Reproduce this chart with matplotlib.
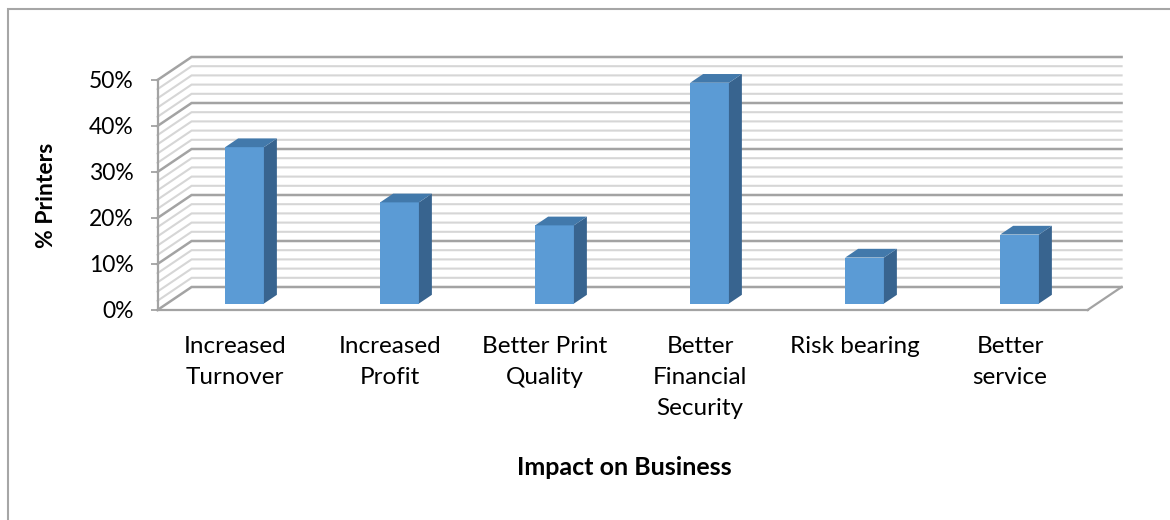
import matplotlib.pyplot as plt
from matplotlib.patches import Polygon, Rectangle
from matplotlib.ticker import PercentFormatter

plt.rcParams['font.family'] = ['Lato', 'DejaVu Sans']

# survey results: share of printers reporting each impact
categories = ["Increased\nTurnover", "Increased\nProfit", "Better Print\nQuality",
              "Better\nFinancial\nSecurity", "Risk bearing", "Better\nservice"]
share = [34, 22, 17, 48, 10, 15]
y_ticks = [0, 10, 20, 30, 40, 50]
minor_step = 2

# oblique depth of the fake 3-D box (data units)
depth_x = 0.22
depth_y = 5.0
bar_w = 0.25
front, back = 0.28, 0.66  # where the columns sit inside the depth

face_col = '#5b9bd5'
top_col = '#4279ab'
side_col = '#38648f'
major_col = '#a3a3a3'
minor_col = '#d6d6d6'

fig = plt.figure(figsize=(11.7, 5.2), dpi=100)
ax = fig.add_axes([157.5 / 1170, 210 / 520, 930 / 1170, 230 / 520])
x = list(range(len(categories)))
ax.set_xlim(-0.5, len(categories) - 0.5)
ax.set_ylim(y_ticks[0], y_ticks[-1])
x0, x1 = ax.get_xlim()

# side wall + back wall grid (every 2%, darker every 10%)
for v in range(y_ticks[0], y_ticks[-1] + 1, minor_step):
    major = v % 10 == 0
    ax.plot([x0, x0 + depth_x, x1 + depth_x], [v, v + depth_y, v + depth_y],
            color=major_col if major else minor_col, lw=1.8 if major else 1.5,
            clip_on=False, zorder=1, solid_joinstyle='miter')

# right edge of the floor
ax.plot([x1, x1 + depth_x], [0, depth_y], color=major_col, lw=1.6,
        clip_on=False, zorder=1)

# columns: front face as a bar, side and top as polygons
fx, fy = front * depth_x, front * depth_y
bx, by = back * depth_x, back * depth_y
ax.bar([i + fx for i in x], share, bottom=fy, width=bar_w, color=face_col,
       zorder=3, clip_on=False)
for i, v in zip(x, share):
    l, r = i - bar_w / 2, i + bar_w / 2
    side = Polygon([(r + fx, fy), (r + bx, by), (r + bx, v + by), (r + fx, v + fy)],
                   closed=True, facecolor=side_col, edgecolor='none', zorder=3,
                   clip_on=False)
    top = Polygon([(l + fx, v + fy), (r + fx, v + fy), (r + bx, v + by), (l + bx, v + by)],
                  closed=True, facecolor=top_col, edgecolor='none', zorder=3,
                  clip_on=False)
    ax.add_patch(side)
    ax.add_patch(top)

ax.patch.set_visible(False)
for s in ['top', 'right']:
    ax.spines[s].set_visible(False)
for s in ['left', 'bottom']:
    ax.spines[s].set_color(major_col)
    ax.spines[s].set_linewidth(1.6)

ax.set_yticks(y_ticks)
ax.yaxis.set_major_formatter(PercentFormatter(decimals=0))
ax.tick_params(axis='y', length=5, width=1.3, color=major_col, labelsize=16.5, pad=12)
ax.set_xticks(x)
ax.set_xticklabels(categories, fontsize=17.5, linespacing=1.57)
ax.tick_params(axis='x', length=0, pad=19)

ax.set_ylabel('% Printers', fontsize=16.5, fontweight='bold')
ax.yaxis.set_label_coords(-0.119, 0.5)
ax.yaxis.label.set_va('center')
ax.set_xlabel('Impact on Business', fontsize=18, fontweight='bold')
ax.xaxis.set_label_coords(0.502, -0.635)

# chart area border
fig.add_artist(Rectangle((8 / 1170, -0.1), 1.2, 1.1 - 9 / 520, transform=fig.transFigure,
                         fill=False, edgecolor='#a6a6a6', lw=1.5))

fig.savefig('out.png', dpi=100)
